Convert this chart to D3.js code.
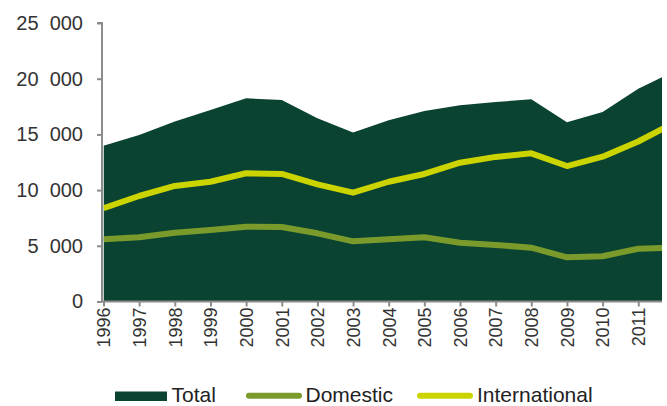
<!DOCTYPE html>
<html>
<head>
<meta charset="utf-8">
<script src="https://cdn.jsdelivr.net/npm/d3@7/dist/d3.min.js"></script>
<style>
  html, body { margin: 0; padding: 0; background: #fff; }
  svg { display: block; }
</style>
</head>
<body>
<svg id="chart" width="667" height="406"></svg>
<script>
// Passenger counts by year (thousands)
const years         = [1996, 1997, 1998, 1999, 2000, 2001, 2002, 2003, 2004, 2005, 2006, 2007, 2008, 2009, 2010, 2011, 2012];
const totalValues   = [13970, 14950, 16150, 17180, 18240, 18090, 16440, 15170, 16280, 17100, 17620, 17910, 18150, 16100, 17000, 19100, 20650];
const domesticValues = [5580, 5760, 6180, 6420, 6720, 6690, 6120, 5400, 5580, 5760, 5280, 5080, 4830, 3970, 4060, 4740, 4840];
const intlValues    = [8370, 9470, 10370, 10750, 11510, 11450, 10520, 9770, 10750, 11450, 12460, 12980, 13300, 12160, 13000, 14360, 16040];
const yTicks        = [0, 5000, 10000, 15000, 20000, 25000];
const xTickYears    = [1996, 1997, 1998, 1999, 2000, 2001, 2002, 2003, 2004, 2005, 2006, 2007, 2008, 2009, 2010, 2011];
const legendLabels  = ["Total", "Domestic", "International"];

const colors = { total: "#0a4331", domestic: "#7a9b2b", intl: "#ccd400", axis: "#8c8c8c", text: "#333333" };

const svg = d3.select("#chart");

const plotLeft = 103.5, plotRight = 662, plotBottom = 301.5, plotTop = 23;
const step = 35.65;

const x = d3.scaleLinear().domain([1996, 2012]).range([plotLeft, plotLeft + 16 * step]);
const y = d3.scaleLinear().domain([0, 25000]).range([plotBottom, plotTop]);

svg.append("defs").append("clipPath").attr("id", "plot-clip")
  .append("rect").attr("x", plotLeft).attr("y", 0)
  .attr("width", plotRight - plotLeft).attr("height", plotBottom + 1);

const plot = svg.append("g").attr("clip-path", "url(#plot-clip)");

const rows = years.map((yr, i) => ({ yr, total: totalValues[i], dom: domesticValues[i], intl: intlValues[i] }));

plot.append("path")
  .datum(rows)
  .attr("fill", colors.total)
  .attr("d", d3.area().x(d => x(d.yr)).y0(y(0)).y1(d => y(d.total)));

const line = key => d3.line().x(d => x(d.yr)).y(d => y(d[key]));

plot.append("path").datum(rows)
  .attr("fill", "none").attr("stroke", colors.domestic).attr("stroke-width", 6)
  .attr("stroke-linejoin", "round").attr("d", line("dom"));

plot.append("path").datum(rows)
  .attr("fill", "none").attr("stroke", colors.intl).attr("stroke-width", 6)
  .attr("stroke-linejoin", "round").attr("d", line("intl"));

// Y axis
const yAxis = svg.append("g").attr("transform", `translate(${plotLeft - 1.5},0)`)
  .call(d3.axisLeft(y).tickValues(yTicks).tickSize(5).tickPadding(14)
    .tickFormat(d => d3.format(",")(d).replace(",", "\u00a0\u00a0")));
yAxis.select(".domain").attr("stroke", colors.axis).attr("stroke-width", 2)
  .attr("d", `M-5,${y(25000)}H0V${plotBottom}`);
yAxis.selectAll(".tick line").attr("stroke", colors.axis).attr("stroke-width", 2);
yAxis.selectAll(".tick text")
  .attr("fill", colors.text).attr("font-family", "'Liberation Sans', Arial, sans-serif")
  .attr("font-size", 20);

// X axis
const xAxis = svg.append("g").attr("transform", `translate(0,${plotBottom})`)
  .call(d3.axisBottom(x).tickValues(xTickYears).tickSize(5).tickFormat(d3.format("d")));
xAxis.select(".domain").attr("stroke", colors.axis).attr("stroke-width", 2)
  .attr("d", `M${plotLeft - 2.5},0H${plotRight}`);
xAxis.selectAll(".tick line").attr("stroke", colors.axis).attr("stroke-width", 2);
xAxis.selectAll(".tick text")
  .attr("fill", colors.text).attr("font-family", "'Liberation Sans', Arial, sans-serif")
  .attr("font-size", 18)
  .attr("text-anchor", "end")
  .attr("transform", "rotate(-90)")
  .attr("x", -6).attr("y", 0).attr("dy", "0.35em");

// Legend
const legend = svg.append("g").attr("font-family", "'Liberation Sans', Arial, sans-serif")
  .attr("font-size", 21).attr("fill", "#222");

const legendItems = [
  { label: legendLabels[0], kind: "rect", color: colors.total, x0: 115, tx: 171.5 },
  { label: legendLabels[1], kind: "line", color: colors.domestic, x0: 246, tx: 305.5 },
  { label: legendLabels[2], kind: "line", color: colors.intl, x0: 417, tx: 477 }
];

legendItems.forEach(it => {
  if (it.kind === "rect") {
    legend.append("rect").attr("x", it.x0).attr("y", 391.5).attr("width", 52).attr("height", 9.5).attr("fill", it.color);
  } else {
    legend.append("line").attr("x1", it.x0 + 3).attr("x2", it.x0 + 53).attr("y1", 395.8).attr("y2", 395.8)
      .attr("stroke", it.color).attr("stroke-width", 6).attr("stroke-linecap", "round");
  }
  legend.append("text").attr("x", it.tx).attr("y", 402).text(it.label);
});
</script>
</body>
</html>
